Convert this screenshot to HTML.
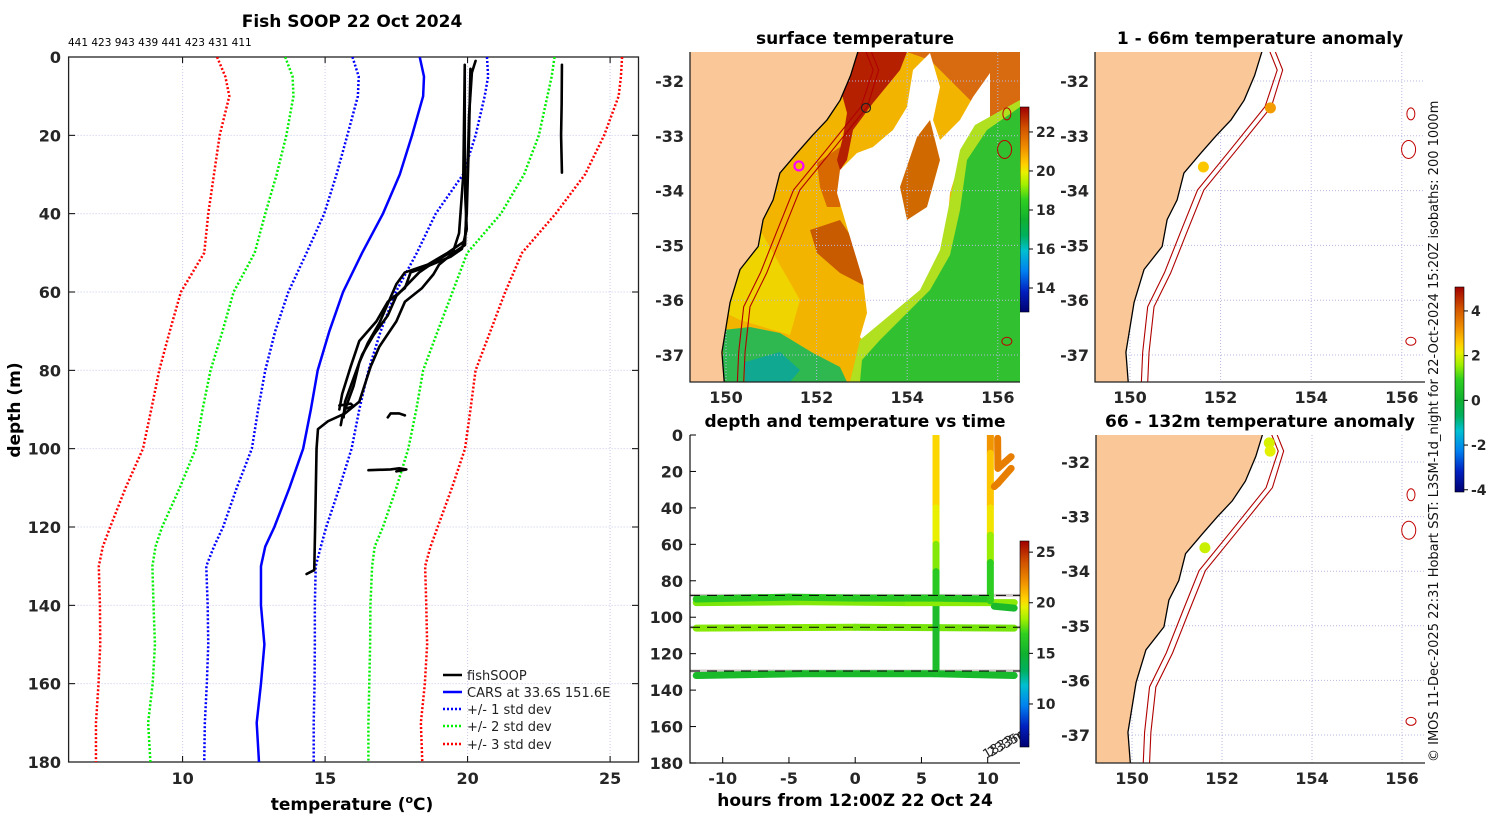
<!DOCTYPE html>
<html><head><meta charset="utf-8"><style>
html,body{margin:0;padding:0;background:#fff;}
svg text{font-family:"DejaVu Sans","Liberation Sans",sans-serif;}
.tk{font-size:16px;font-weight:bold;fill:#262626;}
.ttl{font-size:17px;font-weight:bold;fill:#000;}
</style></head><body>
<svg id="s" width="1500" height="820" xmlns="http://www.w3.org/2000/svg">
<defs>
<linearGradient id="jet" x1="0" y1="1" x2="0" y2="0">
<stop offset="0" stop-color="#000070"/><stop offset="0.1" stop-color="#0020c0"/><stop offset="0.2" stop-color="#0080f0"/><stop offset="0.3" stop-color="#00c0d0"/><stop offset="0.37" stop-color="#00b060"/><stop offset="0.45" stop-color="#10b030"/><stop offset="0.55" stop-color="#30d020"/><stop offset="0.62" stop-color="#a0f000"/><stop offset="0.68" stop-color="#e8f000"/><stop offset="0.72" stop-color="#ffd000"/><stop offset="0.8" stop-color="#f09000"/><stop offset="0.9" stop-color="#d05000"/><stop offset="1" stop-color="#a00000"/>
</linearGradient>
<clipPath id="cp1"><rect x="68.6" y="57" width="570" height="705"/></clipPath>
<clipPath id="cpm"><rect x="690" y="52" width="330" height="330"/></clipPath>
<clipPath id="cpr1"><rect x="1095" y="52" width="330" height="330"/></clipPath>
<clipPath id="cpr2"><rect x="1096" y="435" width="329" height="328"/></clipPath>
<clipPath id="cpb"><rect x="690" y="435" width="330" height="328"/></clipPath>
</defs>

<text class="ttl" x="352" y="27" text-anchor="middle">Fish SOOP 22 Oct 2024</text>
<text x="68" y="46" font-size="10.5" fill="#000">441 423 943 439 441 423 431 411</text>
<text class="ttl" x="352" y="810" text-anchor="middle" fill="#262626">temperature (<tspan font-size="11" dy="-7">o</tspan><tspan dy="7">C)</tspan></text>
<text class="ttl" x="0" y="0" text-anchor="middle" transform="translate(20,410) rotate(-90)" fill="#262626">depth (m)</text>

<text class="ttl" x="855" y="44" text-anchor="middle">surface temperature</text>
<text class="ttl" x="855" y="427" text-anchor="middle">depth and temperature vs time</text>
<text class="ttl" x="855" y="806" text-anchor="middle" fill="#262626">hours from 12:00Z 22 Oct 24</text>
<text class="ttl" x="1260" y="44" text-anchor="middle">1 - 66m temperature anomaly</text>
<text class="ttl" x="1260" y="427" text-anchor="middle">66 - 132m temperature anomaly</text>
<text x="0" y="0" font-size="13" fill="#111" transform="translate(1438,762) rotate(-90)">© IMOS 11-Dec-2025 22:31 Hobart SST: L3SM-1d_night for 22-Oct-2024 15:20Z isobaths: 200  1000m</text>

<g id="legend" font-size="13">
<line x1="443" y1="675" x2="462" y2="675" stroke="#000" stroke-width="2.5"/>
<text x="467" y="680" fill="#222">fishSOOP</text>
<line x1="443" y1="692" x2="462" y2="692" stroke="#0000ff" stroke-width="2.5"/>
<text x="467" y="697" fill="#222">CARS at 33.6S 151.6E</text>
<line x1="443" y1="709" x2="462" y2="709" stroke="#0000ff" stroke-width="2.5" stroke-dasharray="2,2"/>
<text x="467" y="714" fill="#222">+/- 1 std dev</text>
<line x1="443" y1="726" x2="462" y2="726" stroke="#00ee00" stroke-width="2.5" stroke-dasharray="2,2"/>
<text x="467" y="731" fill="#222">+/- 2 std dev</text>
<line x1="443" y1="744" x2="462" y2="744" stroke="#ff0000" stroke-width="2.5" stroke-dasharray="2,2"/>
<text x="467" y="749" fill="#222">+/- 3 std dev</text>
</g>
</svg>
<script>
// ---------- profile data ----------
const depths=[0,5,10,20,30,40,50,60,70,80,90,100,110,120,125,130,140,150,160,170,180];
const carsMean=[18.32,18.47,18.44,18.05,17.62,17.03,16.3,15.63,15.15,14.74,14.5,14.23,13.75,13.22,12.9,12.75,12.75,12.87,12.75,12.6,12.68];
const plus1=[20.68,20.72,20.6,20.28,19.84,18.88,18.22,17.48,16.95,16.52,16.2,15.93,15.5,15.04,14.85,14.67,14.64,14.64,14.63,14.6,14.6];
const minus1=[15.96,16.18,16.15,15.78,15.4,14.97,14.35,13.71,13.25,12.9,12.65,12.43,11.9,11.42,11.1,10.83,10.88,10.9,10.85,10.78,10.76];
const plus2=[23.05,22.95,22.8,22.5,21.98,21.17,19.99,19.47,18.95,18.44,18.2,17.92,17.5,17.03,16.74,16.65,16.59,16.58,16.55,16.52,16.52];
const minus2=[13.6,13.86,13.89,13.64,13.3,12.9,12.53,11.79,11.4,10.98,10.7,10.46,9.9,9.28,9.05,8.94,8.98,9.03,8.95,8.79,8.87];
const plus3=[25.42,25.38,25.3,24.79,24.12,23.09,21.91,21.32,20.8,20.28,20.1,19.91,19.45,18.95,18.7,18.51,18.55,18.58,18.5,18.36,18.41];
const minus3=[11.21,11.5,11.64,11.3,11.1,10.9,10.76,9.94,9.55,9.18,8.9,8.61,8.0,7.46,7.2,7.06,7.1,7.11,7.05,6.96,6.96];
const cast1=[[19.9,2],[19.9,20],[19.92,36],[19.97,44],[19.8,49],[19.4,51],[18.4,54],[18.0,55],[17.8,59],[17.2,62.5],[16.8,67.5],[16.2,72.5],[15.9,79],[15.6,86],[15.5,90]];
const cast2=[[20.28,1],[20.15,4],[20.05,15],[20.0,30],[19.91,48],[19.5,50],[19.0,53],[18.8,55.5],[18.4,59],[17.8,62.5],[17.5,67.5],[16.9,74],[16.6,79],[16.2,88],[15.7,91],[15.1,93],[14.75,95],[14.7,100],[14.65,120],[14.62,131],[14.35,132]];
const cast3=[[20.1,3],[20.05,20],[19.97,40],[19.9,47],[19.3,50],[18.6,53],[17.8,55],[17.5,58],[17.2,63],[16.9,68],[16.5,73],[16.2,78],[16.0,84],[15.8,88],[15.6,92],[15.55,94]];
const cast4=[[19.9,3],[19.85,30],[19.7,45],[19.5,49.5],[18.9,52],[18.3,55],[17.9,58],[17.5,61],[17.2,66],[16.7,71],[16.3,76],[16.0,82],[15.7,88],[15.65,92]];
const cast5=[[23.31,2],[23.3,12],[23.28,20],[23.31,29.5]];
const blob1=[[17.2,92],[17.3,91],[17.6,91],[17.8,91.5]];
const blob2=[[16.52,105.5],[17.3,105.3],[17.6,105.0],[17.85,105.3],[17.5,105.8]];
const blob3=[[15.5,89],[15.9,88.5],[16.0,89.2],[15.7,89.8]];
const tempTicks=[10,15,20,25];
const depthTicks=[0,20,40,60,80,100,120,140,160,180];
// ---------- time plot data ----------
const hourTicks=[-10,-5,0,5,10];
const trackA=[[-12,90,16.3],[-5,89,16.5],[0,89.5,16.6],[6,89.5,16.2],[10.2,90,16.4]];
const trackB=[[-12,92,17.8],[-4,91.5,18],[4,92,18],[12,92,18.2]];
const trackC=[[-12,106,18],[0,105.5,18.1],[12,106,17.6]];
const trackD=[[-12,132,15.5],[-4,131,15.6],[6,131,15.5],[12,132,15.4]];
const trackE=[[10.5,94,15.5],[12,95,15.5]];
const vert1=[[6.1,0,20.3],[6.1,40,20.2],[6.1,60,19],[6.1,75,17],[6.1,90,16],[6.1,130,15.3]];
const vert2=[[10.2,0,22.8],[10.2,10,21],[10.2,40,20.3],[10.2,55,19.5],[10.2,70,17],[10.2,91,16.5]];
const wig1=[[10.75,1.8,22.6],[10.77,18.3,22.6],[11.77,11.9,22.6]];
const wig2=[[11.77,18.3,22.6],[10.77,26.5,22.6],[10.5,28.3,22.6]];
const bottomDepths=[88,105.5,129.5];
// ---------- map data ----------
const coast=[[152.95,-31.3],[152.91,-31.47],[152.75,-31.9],[152.52,-32.35],[152.23,-32.71],[151.9,-33.0],[151.57,-33.31],[151.19,-33.68],[151.04,-34.17],[150.82,-34.53],[150.71,-35.02],[150.31,-35.44],[150.09,-36.04],[149.91,-36.95],[149.98,-37.7]];
const iso200=[[153.05,-31.3],[153.09,-31.47],[153.25,-31.8],[152.98,-32.47],[152.21,-33.26],[151.49,-33.99],[151.11,-34.77],[150.76,-35.5],[150.39,-36.12],[150.28,-36.95],[150.24,-37.7]];
const iso1000=[[153.17,-31.3],[153.21,-31.47],[153.37,-31.8],[153.12,-32.47],[152.35,-33.26],[151.63,-33.99],[151.25,-34.77],[150.9,-35.5],[150.53,-36.12],[150.42,-36.95],[150.38,-37.7]];
const lonTicks=[150,152,154,156];
const latTicks=[-32,-33,-34,-35,-36,-37];
const anomTopDots=[[153.1,-32.49,3.1],[151.62,-33.57,2.6]];
const anomBotDots=[[153.05,-31.65,2.0],[153.07,-31.8,2.1],[151.62,-33.57,1.9]];

const NS='http://www.w3.org/2000/svg';
const S=document.getElementById('s');
function el(tag,parent,attrs){const e=document.createElementNS(NS,tag);for(const k in attrs)e.setAttribute(k,attrs[k]);parent.appendChild(e);return e;}
const stops=[[0,[0,0,112]],[0.1,[0,32,192]],[0.2,[0,128,240]],[0.3,[0,192,208]],[0.37,[0,176,96]],[0.45,[16,176,48]],[0.55,[48,208,32]],[0.62,[160,240,0]],[0.68,[232,240,0]],[0.72,[255,208,0]],[0.8,[240,144,0]],[0.9,[208,80,0]],[1,[160,0,0]]];
function cmap(f){f=Math.max(0,Math.min(1,f));for(let i=1;i<stops.length;i++){if(f<=stops[i][0]){const a=stops[i-1],b=stops[i],u=(f-a[0])/(b[0]-a[0]);const c=a[1].map((v,j)=>Math.round(v+(b[1][j]-v)*u));return 'rgb('+c.join(',')+')';}}return 'rgb(160,0,0)';}

// ================= LEFT PROFILE =================
const X1=t=>68.6+(t-6)*28.5, Y1=d=>57+d*3.9167;
const gL=el('g',S,{});


tempTicks.forEach(t=>{
  const g=el('line',gL,{x1:X1(t),x2:X1(t),y1:57,y2:762,stroke:'#c8c8ec','stroke-width':1,'stroke-dasharray':'1,2'});
  
  
  const tk=el('line',gL,{x1:X1(t),x2:X1(t),y1:57,y2:63,stroke:'#000'});
  
  
  const tb=el('line',gL,{x1:X1(t),x2:X1(t),y1:756,y2:762,stroke:'#000'});
  
  
  const lb=el('text',gL,{x:X1(t),y:784,'text-anchor':'middle',class:'tk'});
  lb.textContent=t;
  
  
});
depthTicks.forEach(d=>{
  if(d>0&&d<180){const g=el('line',gL,{x1:68.6,x2:638.5,y1:Y1(d),y2:Y1(d),stroke:'#c8c8ec','stroke-width':1,'stroke-dasharray':'1,2'});
  
  }
  const tk=el('line',gL,{x1:68.6,x2:75,y1:Y1(d),y2:Y1(d),stroke:'#000'});
  
  
  const tr=el('line',gL,{x1:632,x2:638.5,y1:Y1(d),y2:Y1(d),stroke:'#000'});
  
  
  const lb=el('text',gL,{x:61,y:Y1(d)+6,'text-anchor':'end',class:'tk'});
  lb.textContent=d;
  
  
});
const fr=el('rect',gL,{x:68.6,y:57,width:569.9,height:705,fill:'none',stroke:'#222','stroke-width':1.3});


const gLC=el('g',gL,{'clip-path':'url(#cp1)'});
function profLine(vals,color,dash,name){
  const p=el('polyline',gLC,{points:vals.map((t,i)=>X1(t)+','+Y1(depths[i])).join(' '),fill:'none',stroke:color,'stroke-width':2.5,'stroke-dasharray':dash});
  
  
}
profLine(minus3,'#ff0000','2,2','minus-3-sd-line');
profLine(plus3,'#ff0000','2,2','plus-3-sd-line');
profLine(minus2,'#00ee00','2,2','minus-2-sd-line');
profLine(plus2,'#00ee00','2,2','plus-2-sd-line');
profLine(minus1,'#0000ff','2,2','minus-1-sd-line');
profLine(plus1,'#0000ff','2,2','plus-1-sd-line');
profLine(carsMean,'#0000ff','none','cars-mean-line');
[cast1,cast2,cast3,cast4,cast5,blob1,blob2,blob3].forEach(c=>{
  const p=el('polyline',gLC,{points:c.map(q=>X1(q[0])+','+Y1(q[1])).join(' '),fill:'none',stroke:'#000','stroke-width':2.6,'stroke-linejoin':'round','stroke-linecap':'round'});
  
  
});
S.appendChild(document.getElementById('legend'));

// ================= TIME PLOT =================
const X2=h=>855.2+h*13.25, Y2=d=>435+d*1.8222;
const gT=el('g',S,{});


const gTC=el('g',gT,{'clip-path':'url(#cpb)'});
function track(pts,name){
  for(let i=1;i<pts.length;i++){
    const a=pts[i-1],b=pts[i];
    const s=el('line',gTC,{x1:X2(a[0]),y1:Y2(a[1]),x2:X2(b[0]),y2:Y2(b[1]),stroke:cmap(((a[2]+b[2])/2-5.75)/20.35),'stroke-width':7,'stroke-linecap':'round'});
    
    
  }
}
bottomDepths.forEach(d=>{
  const u=el('line',gTC,{x1:690,x2:1020,y1:Y2(d),y2:Y2(d),stroke:'#a09090','stroke-width':3,opacity:0.5});
  
  
});
track(trackD,'track-132m');
track(trackC,'track-106m');
track(vert1,'profile-track-6h');
track(trackB,'track-92m');
track(trackA,'track-89m');
track(trackE,'track-95m');
track(vert2,'profile-track-10h');
track(wig1,'surface-track-a');
track(wig2,'surface-track-b');
bottomDepths.forEach(d=>{
  const l=el('line',gTC,{x1:690,x2:1020,y1:Y2(d),y2:Y2(d),stroke:'#000','stroke-width':1,'stroke-dasharray':'10,7'});
  
  
});
const axB=el('polyline',gT,{points:'690,435 690,763 1020,763',fill:'none',stroke:'#222','stroke-width':1.3});


hourTicks.forEach(h=>{
  const t=el('line',gT,{x1:X2(h),x2:X2(h),y1:757,y2:763,stroke:'#000'});
  
  
  const lb=el('text',gT,{x:X2(h),y:784,'text-anchor':'middle',class:'tk'});
  lb.textContent=h;
  
  
});
depthTicks.forEach(d=>{
  const t=el('line',gT,{x1:690,x2:696,y1:Y2(d),y2:Y2(d),stroke:'#000'});
  
  
  const lb=el('text',gT,{x:683,y:Y2(d)+6,'text-anchor':'end',class:'tk'});
  lb.textContent=d;
  
  
});
['1833m','2335m'].forEach((s,i)=>{
  const t=el('text',gT,{x:0,y:0,'font-size':13,fill:'#222',transform:'translate('+(986+i*5)+','+(759-i*2)+') rotate(-30)'});
  t.textContent=s;
  
  
});

// colour bars
function cbar(x,y0,y1,vmin,vmax,ticks,name){
  const g=el('g',S,{});
  
  
  const r=el('rect',g,{x:x,y:y0,width:9,height:y1-y0,fill:'url(#jet)',stroke:'#000','stroke-width':0.6});
  
  
  ticks.forEach(v=>{
    const yy=y1-(v-vmin)/(vmax-vmin)*(y1-y0);
    const t=el('line',g,{x1:x+9,x2:x+13,y1:yy,y2:yy,stroke:'#000'});
    
    
    const lb=el('text',g,{x:x+16,y:yy+5,'font-size':14,'font-weight':'bold',fill:'#262626'});
    lb.textContent=v;
    
    
  });
}
const sstTicks=[14,16,18,20,22], timeTicks=[10,15,20,25], anomTicks=[-4,-2,0,2,4];
cbar(1020,107,312,12.77,23.28,sstTicks,'sst-colorbar');
cbar(1020,541,747,5.75,26.1,timeTicks,'time-colorbar');
cbar(1455,287,492,-4.1,5.07,anomTicks,'anomaly-colorbar');

// ================= MAPS =================
function drawMap(ox,oy,kx,ky,clip,x0,y0,w,h,name,sst,dots){
  const LX=lon=>ox+(lon-150)*kx, LY=lat=>oy+(-32-lat)*ky;
  const g=el('g',S,{});
  
  
  const gc=el('g',g,{'clip-path':'url(#'+clip+')'});
  if(sst){
    const base=el('rect',gc,{x:x0,y:y0,width:w,height:h,fill:'#f3b400'});
    
    
    const blobs=[
      ['#f0d400','690,240 760,230 800,300 790,335 740,320 700,300'],
      ['#d86800','817,163 840,147 843,177 840,207 827,207 820,187'],
      ['#c85a00','810,230 840,220 867,260 867,287 840,273 817,253'],
      ['#b52000','858,52 907,52 900,70 873,103 853,130 847,160 840,170 837,160 843,137 847,113 840,87 847,70'],
      ['#d86a10','907,52 1020,52 1020,110 990,120 960,90 930,60'],
      ['#ffffff','873,147 893,130 907,107 913,70 930,53 940,87 933,120 940,140 960,120 973,97 990,73 990,120 970,137 960,160 950,193 947,227 940,253 933,280 917,297 903,320 887,337 873,353 860,337 867,313 863,280 847,227 837,193 840,170 857,153'],
      ['#d06a00','917,137 930,120 940,160 927,207 907,220 900,187'],
      ['#b0e020','1020,100 975,125 960,150 950,200 940,250 920,290 890,315 860,340 850,382 1020,382'],
      ['#30c030','1020,107 987,130 967,160 960,210 950,255 930,290 905,315 880,340 862,360 860,382 1020,382'],
      ['#30b850','723,330 750,327 780,333 813,353 840,367 847,382 723,382'],
      ['#10a890','745,362 780,352 800,370 790,382 745,382']
    ];
    blobs.forEach(b=>{
      const p=el('polygon',gc,{points:b[1],fill:b[0]});
      
      
    });
  }
  lonTicks.forEach(l=>{
    const gl=el('line',gc,{x1:LX(l),x2:LX(l),y1:y0,y2:y0+h,stroke:'#b8b8e0','stroke-width':1,'stroke-dasharray':'1,2'});
    
    
    const lb=el('text',S,{x:LX(l),y:y0+h+21,'text-anchor':'middle',class:'tk'});
    lb.textContent=l;
    
    
  });
  latTicks.forEach(l=>{
    const gl=el('line',gc,{x1:x0,x2:x0+w,y1:LY(l),y2:LY(l),stroke:'#b8b8e0','stroke-width':1,'stroke-dasharray':'1,2'});
    
    
    const lb=el('text',S,{x:x0-6,y:LY(l)+6,'text-anchor':'end',class:'tk'});
    lb.textContent=l;
    
    
  });
  const landPts=coast.map(c=>LX(c[0])+','+LY(c[1])).join(' ')+' '+(x0-5)+','+(y0+h+10)+' '+(x0-5)+','+(y0-10);
  const land=el('polygon',gc,{points:landPts,fill:'#fac898',stroke:'none'});
  
  
  const cl=el('polyline',gc,{points:coast.map(c=>LX(c[0])+','+LY(c[1])).join(' '),fill:'none',stroke:'#000','stroke-width':1.3});
  
  
  [iso200,iso1000].forEach(iso=>{
    const il=el('polyline',gc,{points:iso.map(c=>LX(c[0])+','+LY(c[1])).join(' '),fill:'none',stroke:'#b00000','stroke-width':1.1});
    
    
  });
  [[156.2,-32.6,4,6],[156.15,-33.25,7,9],[156.2,-36.75,5,4]].forEach(s=>{
    const e=el('ellipse',gc,{cx:LX(s[0]),cy:LY(s[1]),rx:s[2],ry:s[3],fill:'none',stroke:'#c00000','stroke-width':1});
    
    
  });
  if(sst){
    const m=el('circle',gc,{cx:LX(151.61),cy:LY(-33.55),r:4.5,fill:'none',stroke:'#ff00ff','stroke-width':2.2});
    
    
    const b=el('circle',gc,{cx:LX(153.09),cy:LY(-32.49),r:4.5,fill:'none',stroke:'#222','stroke-width':1.2});
    
    
  }
  (dots||[]).forEach(d=>{
    const c=el('circle',gc,{cx:LX(d[0]),cy:LY(d[1]),r:5.5,fill:cmap((d[2]+4.1)/9.17)});
    
    
  });
  const ax=el('polyline',g,{points:x0+','+y0+' '+x0+','+(y0+h)+' '+(x0+w)+','+(y0+h),fill:'none',stroke:'#222','stroke-width':1.3});
  
  
}
drawMap(726,81,45.3,54.8,'cpm',690,52,330,330,'sst-map',true,null);
drawMap(1130,81,45.3,54.8,'cpr1',1095,52,330,330,'anomaly-map-top',false,anomTopDots);
drawMap(1132,462,45,54.6,'cpr2',1096,435,329,328,'anomaly-map-bottom',false,anomBotDots);
</script>
</body></html>
